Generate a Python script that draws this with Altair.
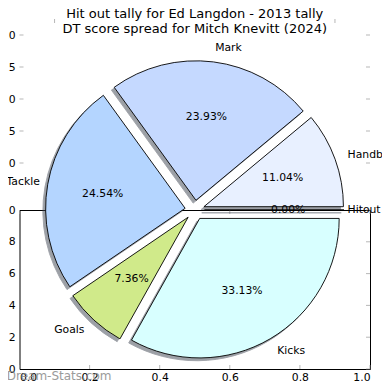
import altair as alt
import pandas as pd

# ---- data ----
categories = ["Hitout", "Handball", "Mark", "Tackle", "Goals", "Kicks"]
values = [0, 18, 39, 40, 12, 54]
colors = ["#ffffff", "#e8f0ff", "#c5d9ff", "#b4d5ff", "#d0ea8a", "#d8ffff"]

lower_ticks = [0.0, 0.2, 0.4, 0.6, 0.8, 1.0]
upper_y_ticks = [-1.0, -0.5, 0.0, 0.5, 1.0]
upper_x_ticks = [-1.0, 1.0]

title_lines = ["Hit out tally for Ed Langdon - 2013 tally",
               "DT score spread for Mitch Knevitt (2024)"]
watermark = ["Dream-Stats.com"]

# ---- layout / style constants ----
W, H = 350.5, 159
R = 139.5
EXPL = 0.07
SHAD = 0.02
PCTD = 0.6
LABD = 1.1
CX, CY = 0.5, 1.0
LAB_MIN_X, LAB_MAX_X = 0.058, 0.936   # keep outer labels inside the visible page
FONT = "DejaVu Sans"
FS = 10.8
TICK = "#999999"

LX = alt.Scale(domain=[0, 1])
LY = alt.Scale(domain=[0, 1])
UX = alt.Scale(domain=[-1.25, 1.25])
UY = alt.Scale(domain=[-1.25, 1.25], range=[-31, -191])

pie_df = pd.DataFrame({"label": categories, "value": values,
                       "color": colors, "order": list(range(len(values)))})

base = (
    alt.Chart(pie_df)
    .transform_window(cum="sum(value)", sort=[alt.SortField("order")], frame=[None, 0])
    .transform_joinaggregate(total="sum(value)")
    .transform_calculate(fs="(datum.cum - datum.value) / datum.total",
                         fe="datum.cum / datum.total")
    .transform_calculate(
        mid="PI * (datum.fs + datum.fe)",
        t1="PI / 2 - 2 * PI * datum.fs",
        t2="PI / 2 - 2 * PI * datum.fe",
        pct="format(datum.value / datum.total * 100, '.2f') + '%'",
    )
    .transform_calculate(
        cx=f"{CX} + {EXPL * R} * cos(datum.mid) / {W}",
        cy=f"{CY} + {EXPL * R} * sin(datum.mid) / {H}",
    )
    .transform_calculate(
        sx=f"datum.cx - {SHAD * R} / {W}",
        sy=f"datum.cy - {SHAD * R} / {H}",
        px=f"datum.cx + {PCTD * R} * cos(datum.mid) / {W}",
        py=f"datum.cy + {PCTD * R} * sin(datum.mid) / {H}",
        lx=f"datum.cx + {LABD * R} * cos(datum.mid) / {W}",
        ly=f"datum.cy + {LABD * R} * sin(datum.mid) / {H}",
    )
    .transform_calculate(lxc=f"clamp(datum.lx, {LAB_MIN_X}, {LAB_MAX_X})")
)

def xq(f, s=LX):
    return alt.X(f"{f}:Q", scale=s, axis=None)

def yq(f, s=LY):
    return alt.Y(f"{f}:Q", scale=s, axis=None)

shadows = base.mark_arc(radius=R, color="#3c4350", opacity=0.5,
                        stroke="#3c4350", strokeWidth=0.9).encode(
    x=xq("sx"), y=yq("sy"),
    theta=alt.Theta("t1:Q", scale=None), theta2=alt.Theta2("t2:Q"))

wedges = base.mark_arc(radius=R, stroke="black", strokeWidth=0.9).encode(
    x=xq("cx"), y=yq("cy"),
    theta=alt.Theta("t1:Q", scale=None), theta2=alt.Theta2("t2:Q"),
    fill=alt.Fill("color:N", scale=None))

pcts = base.mark_text(font=FONT, fontSize=FS, color="black",
                      align="center", baseline="middle").encode(
    x=xq("px"), y=yq("py"), text="pct:N")

labels_l = base.transform_filter("cos(datum.mid) > 0").mark_text(
    font=FONT, fontSize=FS, color="black", align="left", baseline="middle").encode(
    x=xq("lxc"), y=yq("ly"), text="label:N")

labels_r = base.transform_filter("cos(datum.mid) <= 0").mark_text(
    font=FONT, fontSize=FS, color="black", align="right", baseline="middle").encode(
    x=xq("lxc"), y=yq("ly"), text="label:N")

# ---- tick layers ----
lt = pd.DataFrame({"v": lower_ticks, "e0": 0.0, "e1": 1.0})
ut = pd.DataFrame({"v": upper_y_ticks, "e0": 0.0, "e1": 1.0})
uxt = pd.DataFrame({"v": upper_x_ticks, "top": 1.25})

axis_common = dict(format=".1f", ticks=False, tickSize=0, domain=False,
                   grid=False, title=None)

bottom_ticks = alt.Chart(lt).mark_tick(orient="vertical", size=4, thickness=1,
                                       color=TICK, yOffset=-2).encode(
    x=alt.X("v:Q", scale=LX, axis=alt.Axis(values=lower_ticks, orient="bottom",
                                           labelPadding=2, **axis_common)),
    y=alt.Y("e0:Q", scale=LY, axis=alt.Axis(values=lower_ticks, orient="left",
                                            labelPadding=4.5, **axis_common)))

top_ticks = alt.Chart(lt).mark_tick(orient="vertical", size=4, thickness=1,
                                    color=TICK, yOffset=2).encode(
    x=xq("v"), y=yq("e1"))

right_ticks = alt.Chart(lt).mark_tick(orient="horizontal", size=4, thickness=1,
                                      color=TICK, xOffset=-2).encode(
    x=xq("e1"), y=yq("v"))

upper_left = alt.Chart(ut).mark_tick(orient="horizontal", size=4, thickness=1,
                                     color=TICK, xOffset=2).encode(
    x=xq("e0"),
    y=alt.Y("v:Q", scale=UY, axis=alt.Axis(values=upper_y_ticks, orient="left",
                                           labelPadding=4.5, **axis_common)))

upper_right = alt.Chart(ut).mark_tick(orient="horizontal", size=4, thickness=1,
                                      color=TICK, xOffset=-2).encode(
    x=xq("e1"), y=yq("v", UY))

upper_top = alt.Chart(uxt).mark_tick(orient="vertical", size=4, thickness=1,
                                     color=TICK, yOffset=2).encode(
    x=xq("v", UX), y=yq("top", UY))

wm = alt.Chart(pd.DataFrame({"t": watermark})).mark_text(
    font=FONT, fontSize=12, color="#8a8a8a", opacity=0.85,
    align="right", baseline="alphabetic").encode(
    x=alt.value(92), y=alt.value(170), text="t:N")

chart = (
    alt.layer(bottom_ticks, top_ticks, right_ticks, upper_left, upper_right,
              upper_top, shadows, wedges, pcts, labels_l, labels_r, wm)
    .resolve_scale(x="independent", y="independent")
    .properties(
        width=W, height=H,
        autosize=alt.AutoSizeParams(type="none"),
        padding={"left": 11.5, "top": 202, "right": 12, "bottom": 13},
        title=alt.TitleParams(text=title_lines, font=FONT, fontSize=13,
                              fontWeight="normal", color="black",
                              anchor="middle", lineHeight=15, offset=-17),
    )
    .configure_view(stroke="black", strokeWidth=1)
    .configure_axis(labelFont=FONT, labelFontSize=FS, labelColor="black")
)

chart.save("out.html", embed_options={"renderer": "svg", "actions": False})
